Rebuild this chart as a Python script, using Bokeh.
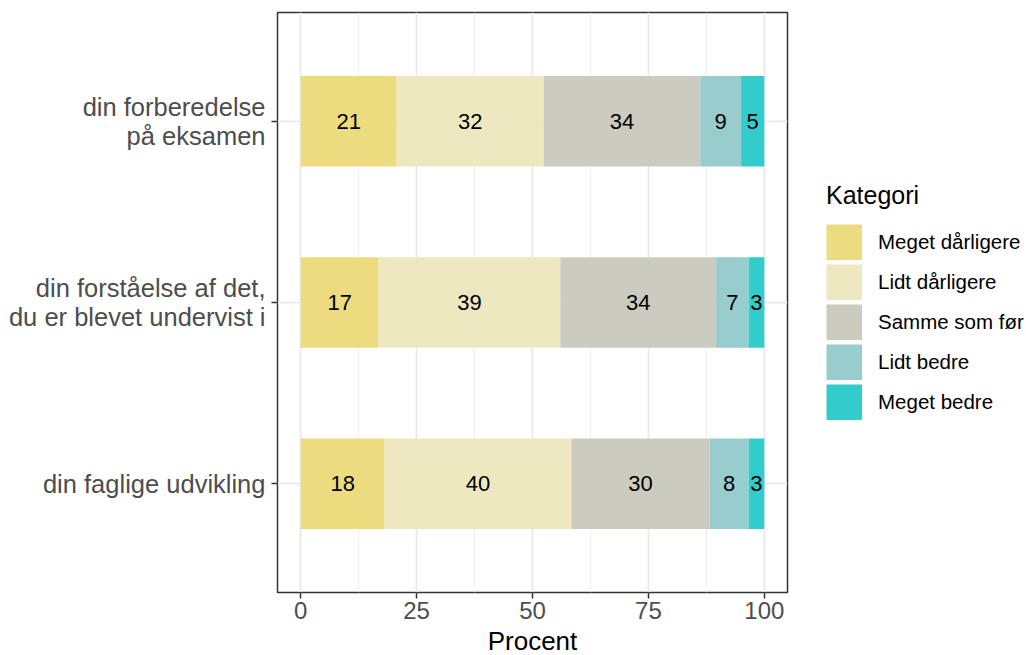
from bokeh.plotting import figure
from bokeh.models import Range1d, FixedTicker, Legend, LegendItem, ColumnDataSource
from bokeh.embed import file_html
from bokeh.resources import INLINE
from bokeh.core.properties import value

# ---- data ----
questions = [
    "din faglige udvikling",
    "din forståelse af det,\ndu er blevet undervist i",
    "din forberedelse\npå eksamen",
]
categories = ["Meget dårligere", "Lidt dårligere", "Samme som før", "Lidt bedre", "Meget bedre"]
colors = ["#EDDB80", "#EDE8C0", "#CCCBBF", "#99CCCC", "#33CCCC"]
# percent per category (one value per question, same order as questions)
meget_darligere = [18.1, 16.8, 20.7]
lidt_darligere = [40.3, 39.2, 31.7]
samme_som_for = [29.8, 33.6, 33.8]
lidt_bedre = [8.4, 7.0, 8.8]
meget_bedre = [3.4, 3.4, 5.0]
x_ticks = [0, 25, 50, 75, 100]
x_minor = [12.5, 37.5, 62.5, 87.5]

series = [meget_darligere, lidt_darligere, samme_som_for, lidt_bedre, meget_bedre]
ypos = list(range(1, len(questions) + 1))

FONT = "Liberation Sans"

p = figure(
    frame_width=510, frame_height=580,
    x_range=Range1d(-5, 105), y_range=Range1d(0.4, len(questions) + 0.6),
    output_backend="svg", toolbar_location=None,
    min_border_left=277, min_border_top=12, min_border_right=239, min_border_bottom=58,
)
p.background_fill_color = "white"
p.border_fill_color = "white"
p.outline_line_color = "#333333"
p.outline_line_width = 1.5

left = [0.0] * len(questions)
legend_items = []
for cat, vals, col in zip(categories, series, colors):
    right = [l + v for l, v in zip(left, vals)]
    src = ColumnDataSource(dict(
        y=ypos, left=left, right=right,
        mid=[(l + r) / 2 for l, r in zip(left, right)],
        lab=[f"{v:.0f}" for v in vals],
    ))
    p.hbar(y="y", left="left", right="right", height=0.5, source=src,
           fill_color=col, line_color=None)
    p.text(x="mid", y="y", text="lab", source=src, text_align="center",
           text_baseline="middle", text_font=value(FONT), text_font_size="22px",
           text_color="black")
    # legend key: a thick line placed outside the visible ranges (only its legend glyph shows)
    dummy = p.line(x=[-1000, -999], y=[-1000, -1000], line_color=col, line_width=36)
    legend_items.append(LegendItem(label=cat, renderers=[dummy]))
    left = right

# axes
p.xaxis.ticker = FixedTicker(ticks=x_ticks, minor_ticks=x_minor)
p.yaxis.ticker = FixedTicker(ticks=ypos)
p.yaxis.major_label_overrides = {i: q for i, q in zip(ypos, questions)}
for ax in (p.xaxis[0], p.yaxis[0]):
    ax.axis_line_color = None
    ax.major_tick_line_color = "#333333"
    ax.major_tick_line_width = 1.5
    ax.major_tick_out = 6
    ax.major_tick_in = 0
    ax.minor_tick_line_color = None
    ax.major_label_text_font = FONT
    ax.major_label_text_color = "#4D4D4D"
p.xaxis.major_label_text_font_size = "24px"
p.yaxis.major_label_text_font_size = "25.5px"
p.yaxis.major_label_text_line_height = 1.05
p.xaxis.major_label_standoff = 3
p.yaxis.major_label_standoff = 6
p.xaxis.axis_label = "Procent"
p.xaxis.axis_label_text_font = FONT
p.xaxis.axis_label_text_font_size = "26px"
p.xaxis.axis_label_text_font_style = "normal"
p.xaxis.axis_label_text_color = "black"
p.xaxis.axis_label_standoff = 4

# grid
p.xgrid.grid_line_color = "#EBEBEB"
p.xgrid.grid_line_width = 2
p.xgrid.minor_grid_line_color = "#F0F0F0"
p.xgrid.minor_grid_line_width = 1
p.ygrid.grid_line_color = "#EBEBEB"
p.ygrid.grid_line_width = 2

legend = Legend(
    items=legend_items, location=(39, 172),
    title="Kategori", title_text_font=FONT, title_text_font_size="25px",
    title_text_font_style="normal", title_text_color="black", title_standoff=14,
    label_text_font=FONT, label_text_font_size="20.5px", label_text_color="black",
    glyph_width=36, glyph_height=36, label_height=36, spacing=4, label_standoff=16,
    padding=0, margin=0, border_line_color=None, background_fill_alpha=0,
)
p.add_layout(legend, "right")

open("out.html", "w").write(file_html(p, INLINE))
